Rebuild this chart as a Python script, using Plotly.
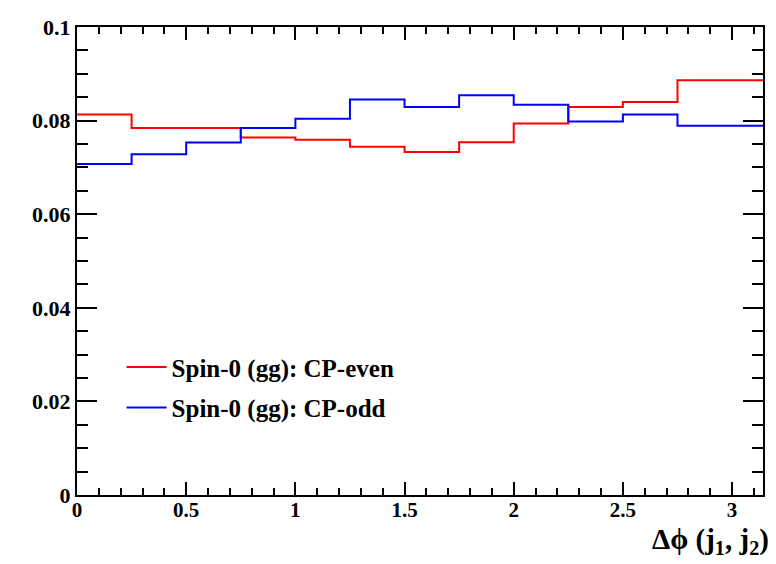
import plotly.graph_objects as go

bin_edges = [0.0, 0.25, 0.5, 0.75, 1.0, 1.25, 1.5, 1.75, 2.0, 2.25, 2.5, 2.75, 3.14159]
cp_even = [0.0813, 0.0784, 0.0784, 0.0764, 0.0759, 0.0744, 0.0733, 0.0754, 0.0794, 0.0829, 0.0840, 0.0886]
cp_odd = [0.0707, 0.0728, 0.0753, 0.0784, 0.0804, 0.0845, 0.0829, 0.0854, 0.0834, 0.0798, 0.0813, 0.0789]
series_names = ["Spin-0 (gg): CP-even", "Spin-0 (gg): CP-odd"]
series_colors = ["#ff0000", "#0000ff"]

FONT = "Liberation Serif"

fig = go.Figure()
for i, (name, vals, col) in enumerate(zip(series_names, [cp_even, cp_odd], series_colors)):
    fig.add_trace(go.Scatter(
        x=bin_edges, y=vals + [vals[-1]],
        mode="lines", line=dict(color=col, width=2, shape="hv"),
        name=name, legendgroup=f"g{i}",
    ))

fig.update_layout(
    width=776, height=564,
    margin=dict(l=77, r=13, t=27, b=69),
    paper_bgcolor="white", plot_bgcolor="white",
    font=dict(family=FONT, color="black", size=16),
    showlegend=True,
    legend=dict(
        x=0.065, y=0.322, xanchor="left", yanchor="top",
        bgcolor="rgba(0,0,0,0)",
        font=dict(family=FONT, size=25, color="black", weight="bold"),
        itemwidth=40, tracegroupgap=5,
    ),
    xaxis=dict(
        range=[0, 3.14159], showgrid=False, zeroline=False,
        showline=True, linecolor="black", linewidth=2, mirror="ticks",
        ticks="inside", ticklen=13, tickwidth=2, tickcolor="black",
        dtick=0.5, tick0=0, ticklabelstandoff=-5,
        tickfont=dict(family=FONT, size=21, weight="bold"),
        minor=dict(ticks="inside", dtick=0.1, ticklen=7, tickwidth=1.5, tickcolor="black"),
    ),
    yaxis=dict(
        range=[0, 0.1], showgrid=False, zeroline=False,
        showline=True, linecolor="black", linewidth=2, mirror="ticks",
        ticks="inside", ticklen=20, tickwidth=2, tickcolor="black",
        dtick=0.02, tick0=0,
        tickfont=dict(family=FONT, size=22, weight="bold"),
        minor=dict(ticks="inside", dtick=0.005, ticklen=11, tickwidth=1.5, tickcolor="black"),
    ),
    annotations=[dict(
        text="Δϕ (j<sub>1</sub>, j<sub>2</sub>)",
        xref="paper", yref="paper", x=1.012, y=-0.056,
        xanchor="right", yanchor="top", showarrow=False,
        font=dict(family=FONT, size=29, color="black", weight="bold"),
    )],
)

fig.write_html("out.html", config={"displayModeBar": False},
               post_script="document.body.style.margin='0';")
